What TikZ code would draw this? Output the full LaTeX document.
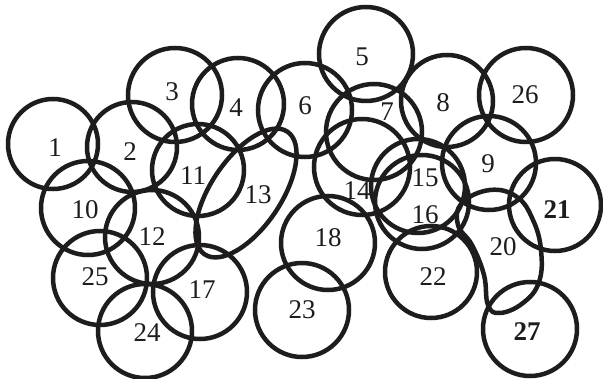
\documentclass[tikz,border=0pt]{standalone}
\usepackage{fontspec}
\setmainfont{Liberation Serif}
\usetikzlibrary{shapes.geometric}
\definecolor{ink}{RGB}{30,28,28}
\begin{document}
\begin{tikzpicture}[x=1pt,y=-1pt,
  ring/.style={draw=ink, line width=4.5pt, circle, inner sep=0pt, minimum size=#1},
  ring/.default=94pt,
  num/.style={text=ink, font=\fontsize{27}{27}\selectfont, inner sep=0pt},
  boldnum/.style={num, font=\fontsize{27}{27}\selectfont\bfseries},
  blob/.style={draw=ink, line width=4.5pt}]
\fill[white] (0,0) rectangle (603,379);
\useasboundingbox (0,0) rectangle (603,379);
% circles
\node[ring=90pt] (c1) at (53,144) {};
\node[ring=90pt] (c2) at (132,147) {};
\node[ring] (c3) at (175,95) {};
\node[ring=92pt] (c4) at (238,104) {};
\node[ring] (c5) at (366,54) {};
\node[ring] (c6) at (305,110) {};
\node[ring=96pt] (c7) at (374,132) {};
\node[ring=92pt] (c8) at (447,101) {};
\node[ring] (c26) at (526,95) {};
\node[ring] (c9) at (489,163) {};
\node[ring] (c10) at (88,208) {};
\node[ring=92pt] (c11) at (198,170) {};
\node[ring] (c12) at (152,237) {};
\node[draw=ink, line width=4.5pt, ellipse, inner sep=0pt, minimum width=148pt, minimum height=70pt, rotate=56] (c13) at (246,193) {};
\node[ring=96pt] (c14) at (362,167) {};
\node[ring] (c15) at (418,186) {};
\node[ring] (c16) at (422,202) {};
\node[ring] (c17) at (200,292) {};
\node[ring] (c18) at (328,243) {};
\draw[blob] plot[smooth cycle, tension=0.7] coordinates {(490,190) (517,197) (533,220) (541,250) (539,282) (523,303) (500,313) (488,305) (484,275) (472,245) (458,225) (462,203)};
\coordinate (c20) at (502,252);
\node[ring=92pt] (c21) at (555,205) {};
\node[ring=92pt] (c22) at (431,272) {};
\node[ring] (c23) at (302,310) {};
\node[ring] (c24) at (145,331) {};
\node[ring] (c25) at (100,278) {};
\node[ring] (c27) at (530,329) {};
% labels
\node[num] (l1) at (55,148) {1};
\node[num] (l2) at (130,152) {2};
\node[num] (l3) at (172,92) {3};
\node[num] (l4) at (236,108) {4};
\node[num] (l5) at (362,57) {5};
\node[num] (l6) at (305,106) {6};
\node[num] (l7) at (387,112) {7};
\node[num] (l8) at (443,103) {8};
\node[num] (l26) at (525,95) {26};
\node[num] (l9) at (488,164) {9};
\node[num] (l10) at (85,210) {10};
\node[num] (l11) at (193,176) {11};
\node[num] (l12) at (152,237) {12};
\node[num] (l13) at (258,195) {13};
\node[num] (l14) at (357,191) {14};
\node[num] (l15) at (425,178) {15};
\node[num] (l16) at (425,215) {16};
\node[num] (l17) at (202,290) {17};
\node[num] (l18) at (328,238) {18};
\node[num] (l20) at (503,247) {20};
\node[boldnum] (l21) at (557,210) {21};
\node[num] (l22) at (433,277) {22};
\node[num] (l23) at (302,310) {23};
\node[num] (l24) at (147,333) {24};
\node[num] (l25) at (95,277) {25};
\node[boldnum] (l27) at (527,332) {27};
\end{tikzpicture}
\end{document}
